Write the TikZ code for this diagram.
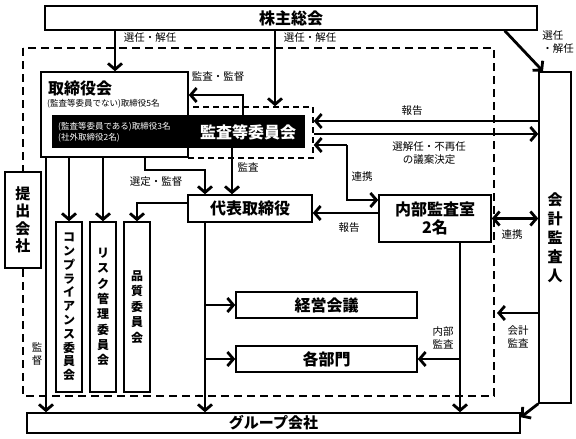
\documentclass[tikz,border=0pt]{standalone}
\usepackage{fontspec}
\setmainfont{Noto Sans CJK JP}
\usetikzlibrary{arrows.meta}

\begin{document}
\begin{tikzpicture}[x=1pt,y=-1pt,
    box/.style={draw,line width=1.5pt,fill=white,inner sep=0pt,font=\bfseries\fontsize{16}{18}\selectfont},
    tate/.style={box,align=center},
    arr/.style={line width=2.8pt,-{Straight Barb[length=6pt,width=14pt]}},
    dbl/.style={line width=2.8pt,{Straight Barb[length=6pt,width=14pt]}-{Straight Barb[length=6pt,width=14pt]}},
    lab/.style={inner sep=0pt,font=\fontsize{10.5}{13}\selectfont}]
\useasboundingbox (0,0) rectangle (576,439);

% Outer frame (submitting company)
\draw[line width=2.5pt,dash pattern=on 8pt off 5pt] (23,48) rectangle (494,396);

% Boxes
\node[box,minimum width=492pt,minimum height=24pt] (kabu) at (291,18) {株主総会};
\node[draw,line width=1.5pt,dash pattern=on 6pt off 4pt,inner sep=0pt,
      minimum width=125pt,minimum height=51pt] (iinkai) at (250.5,132.5) {};
\node[box,minimum width=147pt,minimum height=85pt] (tori) at (114.5,114.5) {};
\node[anchor=west,inner sep=0pt,font=\bfseries\fontsize{16}{18}\selectfont] (toriT) at (48,88) {取締役会};
\node[anchor=west,inner sep=0pt,font=\fontsize{8.5}{10}\selectfont] (toriS) at (47,104) {(監査等委員でない)取締役5名};
\node[fill=black,inner sep=0pt,minimum width=253pt,minimum height=33pt] (band) at (178.5,131.5) {};
\node[anchor=west,white,align=left,inner sep=0pt,font=\fontsize{8.5}{11.5}\selectfont] (bandS) at (58,132)
    {(監査等委員である)取締役3名\\(社外取締役2名)};
\node[white,inner sep=0pt,font=\bfseries\fontsize{16}{18}\selectfont] (bandT) at (248,132) {監査等委員会};

\node[box,minimum width=124pt,minimum height=27pt] (daihyo) at (250,208.5) {代表取締役};
\node[box,align=center,minimum width=112pt,minimum height=47pt] (naibu) at (435,218.5) {内部監査室\\2名};
\node[box,minimum width=181pt,minimum height=26pt] (keiei) at (326.5,305) {経営会議};
\node[box,minimum width=181pt,minimum height=26pt] (kakubu) at (326.5,359) {各部門};
\node[box,minimum width=493pt,minimum height=20pt,font=\bfseries\fontsize{15}{17}\selectfont] (group) at (273.5,423) {グループ会社};
\node[tate,minimum width=32pt,minimum height=331pt,font=\bfseries\fontsize{15}{19}\selectfont] (kaikei) at (555,237.5)
    {会\\計\\監\\査\\人};
\node[tate,minimum width=36pt,minimum height=96pt,font=\bfseries\fontsize{15}{17.5}\selectfont] (teishutsu) at (23,220)
    {提\\出\\会\\社};
\node[tate,minimum width=26pt,minimum height=170pt,font=\bfseries\fontsize{12}{13.8}\selectfont] (comp) at (69,307)
    {コ\\ン\\プ\\ラ\\イ\\ア\\ン\\ス\\委\\員\\会};
\node[tate,minimum width=26pt,minimum height=170pt,font=\bfseries\fontsize{12}{15.3}\selectfont] (risk) at (103,307)
    {リ\\ス\\ク\\管\\理\\委\\員\\会};
\node[tate,minimum width=26pt,minimum height=170pt,font=\bfseries\fontsize{12}{15.4}\selectfont] (hin) at (137,307)
    {品\\質\\委\\員\\会};

% Columns and rows
\coordinate (xa) at (115,0);
\coordinate (xb) at (275,0);
\coordinate (xc) at (243,0);
\coordinate (xd) at (232,0);
\coordinate (xe) at (145,0);
\coordinate (xf) at (205,0);
\coordinate (xg) at (46,0);
\coordinate (xh) at (347,0);
\coordinate (xi) at (460,0);
\coordinate (ya) at (0,95);
\coordinate (yb) at (0,170);
\coordinate (yc) at (0,203);
\coordinate (yd) at (0,213);
\coordinate (ye) at (0,145);
\coordinate (yf) at (0,200);
\coordinate (yg) at (0,121);
\coordinate (yh) at (0,134);
\coordinate (yi) at (0,313);

% General meeting
\draw[arr] (kabu.south -| xa) -- (tori.north -| xa);
\draw[arr] (kabu.south -| xb) -- (iinkai.north -| xb);
\draw[arr] ([xshift=-33pt]kabu.south east) -- ([xshift=-12pt]kaikei.north);
\node[lab] (l1) at (150,38) {選任・解任};
\node[lab] (l2) at (310,38) {選任・解任};
\node[lab,align=left] (l3) at (558,42) {選任\\・解任};

% Audit committee
\draw[arr] (band.north -| xc) |- (tori.east |- ya);
\node[lab] (l4) at (218,77) {監査・監督};
\draw[arr] (band.south -| xd) -- (daihyo.north -| xd);
\node[lab] (l5) at (248,167) {監査};
\draw[arr] (tori.south -| xe) |- (yb -| xf) -- (daihyo.north -| xf);
\node[lab] (l6) at (156,182) {選定・監督};
\draw[arr] (kaikei.west |- yg) -- (iinkai.east |- yg);
\node[lab] (l7) at (412,111) {報告};
\draw[arr] (iinkai.east |- yh) -- (kaikei.west |- yh);
\node[lab,align=center] (l8) at (429,153) {選解任・不再任\\の議案決定};
\draw[arr] (xh |- ye) -- (iinkai.east |- ye);
\draw[arr] (xh |- ye) |- (naibu.west |- yf);
\node[lab] (l9) at (362,177) {連携};

% Board to committees and group
\draw[arr] (tori.south -| comp.north) -- (comp.north);
\draw[arr] (tori.south -| risk.north) -- (risk.north);
\draw[arr] (tori.south -| xg) -- (group.north -| xg);
\draw[arr] (daihyo.west |- yc) -| (hin.north);

% Representative director
\draw[arr] (daihyo.south -| xf) -- (group.north -| xf);
\draw[arr] (xf |- keiei.west) -- (keiei.west);
\draw[arr] (xf |- kakubu.west) -- (kakubu.west);

% Internal audit
\draw[arr] (naibu.west |- yd) -- (daihyo.east |- yd);
\node[lab] (l10) at (349,228) {報告};
\draw[arr] (naibu.south -| xi) -- (group.north -| xi);
\draw[arr] (xi |- kakubu.east) -- (kakubu.east);
\node[lab,align=center] (l11) at (443,338) {内部\\監査};
\draw[dbl] (naibu.east) -- (kaikei.west |- naibu.east);
\node[lab] (l12) at (512,235) {連携};

% Accounting auditor
\draw[arr] (kaikei.west |- yi) -- (497,313);
\node[lab,align=center] (l13) at (518,337) {会計\\監査};
\draw[arr] (kaikei.south west) -- ([yshift=-5pt]group.north east);

% Supervision
\node[lab,align=center] (l14) at (37,354) {監\\督};
\end{tikzpicture}
\end{document}
